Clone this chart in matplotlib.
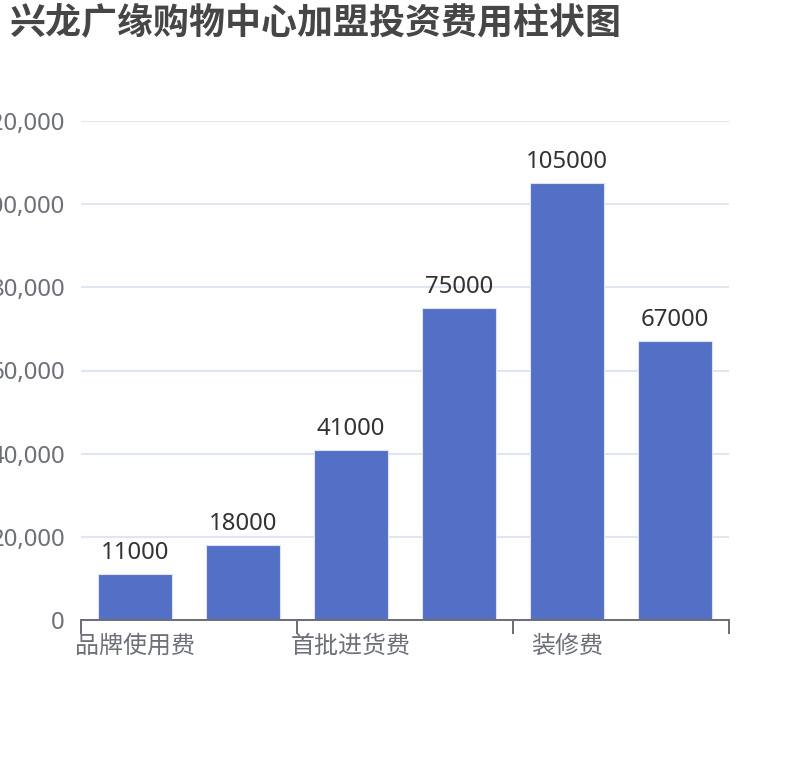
import matplotlib
matplotlib.use("Agg")
import matplotlib.pyplot as plt
import numpy as np

plt.rcParams['font.family'] = ['Noto Sans', 'Noto Sans CJK SC', 'DejaVu Sans']

title = "兴龙广缘购物中心加盟投资费用柱状图"
categories = ["品牌使用费", "加盟费", "首批进货费", "保证金", "装修费", "其他费用"]
values = [11000, 18000, 41000, 75000, 105000, 67000]
shown_label_idx = [0, 2, 4]
y_ticks = [0, 20000, 40000, 60000, 80000, 100000, 120000]

W, H = 810, 760
DPI = 100
PX = 72 / DPI  # points per pixel

fig = plt.figure(figsize=(W / DPI, H / DPI), dpi=DPI)
ax = fig.add_axes([81 / W, 140 / H, 648 / W, 499 / H])

x = np.arange(len(categories))
ax.bar(x, values, width=0.694, color='#5470c6', edgecolor='#dde3f5',
       linewidth=0.8, zorder=3)

ax.set_xlim(-0.5, len(categories) - 0.5)
ax.set_ylim(0, 120000)

ax.set_yticks(y_ticks)
ax.set_yticklabels([f"{v:,}" for v in y_ticks])
ax.yaxis.grid(True, color='#e0e6f1', linewidth=1.5, zorder=0)
ax.tick_params(axis='y', length=0, pad=16 * PX, labelsize=24 * PX,
               labelcolor='#6e7079')

ax.set_xticks([-0.5, 1.5, 3.5, 5.5])
ax.set_xticklabels([])
ax.tick_params(axis='x', which='major', length=10, width=2 * PX,
               color='#6e7079', direction='out')
ax.set_xticks([x[i] for i in shown_label_idx], minor=True)
ax.set_xticklabels([categories[i] for i in shown_label_idx], minor=True)
ax.tick_params(axis='x', which='minor', length=0, pad=15 * PX,
               labelsize=24 * PX, labelcolor='#6e7079')

for s in ['top', 'right', 'left']:
    ax.spines[s].set_visible(False)
ax.spines['bottom'].set_color('#6e7079')
ax.spines['bottom'].set_linewidth(2 * PX)
ax.spines['bottom'].set_zorder(4)

for xi, v in zip(x, values):
    ax.annotate(str(v), (xi, v), xytext=(0, 15 * PX), textcoords='offset points',
                ha='center', va='baseline', fontsize=24 * PX, color='#333333')

fig.text(10 / W, 1 - 6 / H, title, ha='left', va='top', fontsize=36 * PX,
         fontweight='bold', color='#464646')

fig.savefig('out.png', dpi=DPI)
